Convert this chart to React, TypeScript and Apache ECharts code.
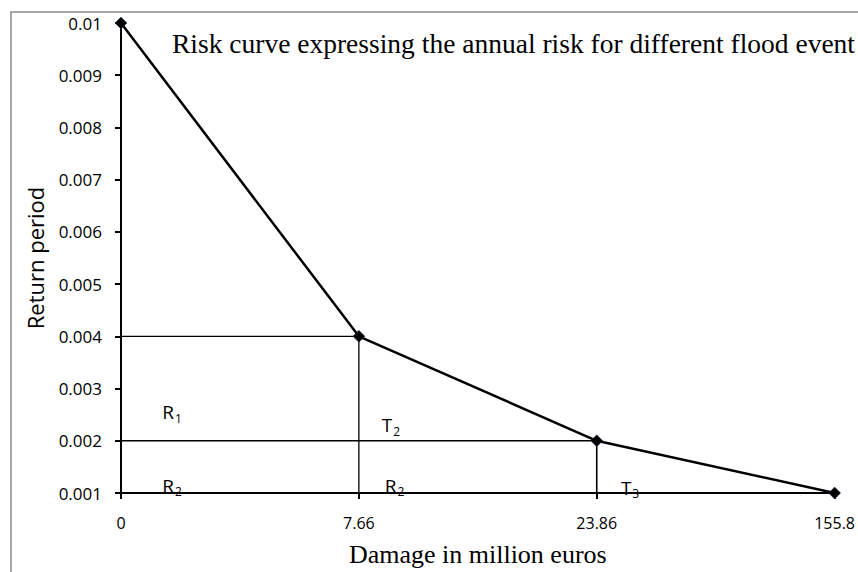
import React, { useEffect, useRef } from "react";
import * as echarts from "echarts";

const categories = ["0", "7.66", "23.86", "155.8"];
const returnPeriod = [0.01, 0.004, 0.002, 0.001];
// guide lines: [categoryIndex, value]
const guideT2 = [[0, 0.004], [1, 0.004], [1, 0.001]];
const guideT3 = [[0, 0.002], [2, 0.002], [2, 0.001]];
// annotations: [category position, value, letter, subscript]
const annotations: [number, number, string, string][] = [
  [0.215, 0.00255, "R", "1"],
  [0.215, 0.00114, "R", "2"],
  [1.135, 0.0023, "T", "2"],
  [1.15, 0.00114, "R", "2"],
  [2.14, 0.0011, "T", "3"],
];

export default function App() {
  const ref = useRef<HTMLDivElement>(null);
  useEffect(() => {
    const chart = echarts.init(ref.current!, null, { renderer: "svg" });
    const sans = "Open Sans";
    const serif = "Liberation Serif";
    chart.setOption({
      animation: false,
      backgroundColor: "#fff",
      grid: { left: 121, right: 20, top: 23, bottom: 76 },
      graphic: [
        {
          type: "polyline",
          shape: { points: [[11, 572], [11, 12], [858, 12]] },
          style: { stroke: "#8a8a8a", lineWidth: 1.5, fill: "none" },
          silent: true,
        },
        {
          type: "text",
          left: 172,
          top: 29,
          style: {
            text: "Risk curve expressing the annual risk for different flood event",
            font: `27.5px "${serif}"`,
            fill: "#000",
          },
        },
      ],
      xAxis: {
        type: "value",
        min: 0,
        max: 3,
        interval: 1,
        name: "Damage in million euros",
        nameLocation: "middle",
        nameGap: 48,
        nameTextStyle: { fontFamily: serif, fontSize: 26, color: "#000" },
        axisLine: { lineStyle: { color: "#000", width: 2 } },
        axisTick: { show: true, length: 6, lineStyle: { color: "#000", width: 2 } },
        axisLabel: {
          formatter: (v: number) => categories[Math.round(v)] ?? "",
          fontFamily: sans,
          fontSize: 16,
          color: "#000",
          margin: 22,
        },
        splitLine: { show: false },
      },
      yAxis: {
        type: "value",
        min: 0.001,
        max: 0.01,
        interval: 0.001,
        name: "Return period",
        nameLocation: "middle",
        nameGap: 75,
        nameTextStyle: { fontFamily: sans, fontSize: 22, color: "#000" },
        axisLine: { show: true, lineStyle: { color: "#000", width: 2 } },
        axisTick: { show: true, length: 6, lineStyle: { color: "#000", width: 2 } },
        axisLabel: {
          formatter: (v: number) => String(parseFloat(v.toFixed(4))),
          fontFamily: sans,
          fontSize: 17,
          color: "#000",
          margin: 19,
        },
        splitLine: { show: false },
      },
      series: [
        {
          type: "line",
          data: guideT2,
          symbol: "none",
          lineStyle: { color: "#000", width: 1.3 },
          silent: true,
        },
        {
          type: "line",
          data: guideT3,
          symbol: "none",
          lineStyle: { color: "#000", width: 1.6 },
          silent: true,
        },
        {
          type: "line",
          data: returnPeriod.map((v, i) => [i, v]),
          symbol: "diamond",
          symbolSize: 12,
          itemStyle: { color: "#000", borderColor: "#1f3864", borderWidth: 0.5 },
          lineStyle: { color: "#000", width: 2.5 },
          z: 5,
        },
        {
          type: "scatter",
          symbolSize: 0,
          silent: true,
          z: 1,
          itemStyle: { opacity: 1, color: "#000" },
          data: annotations.map((a) => ({
            value: [a[0], a[1]],
            label: {
              show: true,
              position: "inside",
              color: "#000",
              opacity: 1,
              textBorderWidth: 0,
              formatter: `{m|${a[2]}}{s|${a[3]}}`,
              rich: {
                m: { fontFamily: sans, fontSize: 19, color: "#000", textBorderWidth: 0 },
                s: {
                  fontFamily: sans,
                  fontSize: 12,
                  color: "#000",
                  textBorderWidth: 0,
                  padding: [12, 0, 0, 1],
                },
              },
            },
          })),
        },
      ],
    });
    return () => chart.dispose();
  }, []);
  return (
    <div
      ref={ref}
      style={{ position: "absolute", left: 0, top: 0, width: 858, height: 572 }}
    />
  );
}
